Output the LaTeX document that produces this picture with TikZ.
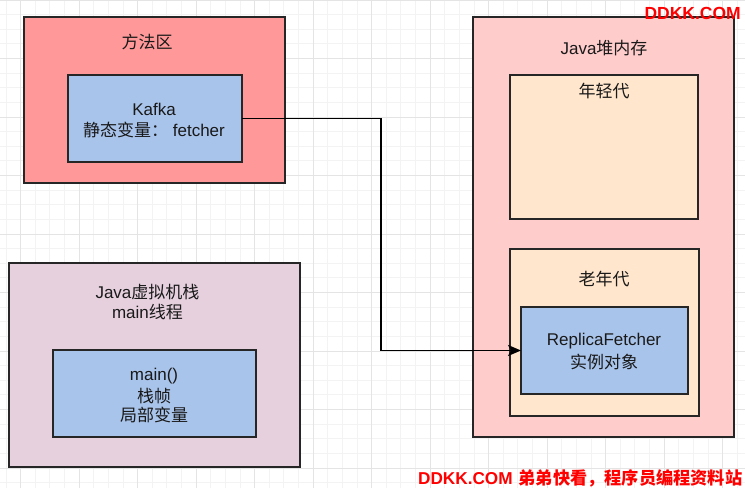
\documentclass[tikz,border=0pt]{standalone}
\usepackage{fontspec}
\setmainfont{Liberation Sans}
\newfontfamily\cjk{Noto Sans CJK SC}
\usetikzlibrary{arrows.meta}
\definecolor{methodc}{HTML}{FF9999}
\definecolor{heapc}{HTML}{FFCCCC}
\definecolor{genc}{HTML}{FFE6CC}
\definecolor{bluec}{HTML}{A9C4EB}
\definecolor{stackc}{HTML}{E6D0DE}
\definecolor{borderc}{HTML}{262626}
\definecolor{gridminor}{HTML}{F3F3F3}
\definecolor{gridmajor}{HTML}{E4E4E4}
\definecolor{wmred}{HTML}{FF0000}
\begin{document}
\begin{tikzpicture}[x=1pt,y=-1pt,
  region/.style={draw=borderc, line width=1.5pt, anchor=north west, inner sep=0pt, outer sep=0pt},
  lbl/.style={inner sep=0pt, font=\fontsize{17}{20}\selectfont, text=black!90},
  wm/.style={inner sep=0pt, font=\fontsize{17.5}{20}\selectfont\bfseries, text=wmred},
  wmb/.style={inner sep=0pt, font=\fontsize{17.2}{20}\selectfont\bfseries, text=wmred},
  conn/.style={draw=black, line width=1.5pt, -{Stealth[length=13pt,width=11pt,inset=3pt]}}
]
\useasboundingbox (0,0) rectangle (745,488);
\fill[white] (0,0) rectangle (745,488);
% grid
\foreach \i in {0,...,51} \draw[gridminor, line width=0.8pt] (5.9+\i*14.625,0) -- (5.9+\i*14.625,488);
\foreach \i in {0,...,34} \draw[gridminor, line width=0.8pt] (0,\i*14.625) -- (745,\i*14.625);
\foreach \i in {0,...,12} \draw[gridmajor, line width=0.9pt] (20.5+\i*58.5,0) -- (20.5+\i*58.5,488);
\foreach \i in {0,...,8} \draw[gridmajor, line width=0.9pt] (0,\i*58.5) -- (745,\i*58.5);

% method area
\node[region, fill=methodc, minimum width=261pt, minimum height=166pt] (method) at (24,17) {};
\node[lbl] (methodt) at (147,42) {\cjk 方法区};
\node[region, fill=bluec, minimum width=174pt, minimum height=87pt] (kafka) at (68,75) {};
\node[lbl] (kafkat1) at (154,109) {Kafka};
\node[lbl] (kafkat2) at (154,130) {{\cjk 静态变量：}\ fetcher};

% JVM stack
\node[region, fill=stackc, minimum width=291pt, minimum height=204pt] (stack) at (9,263) {};
\node[lbl] (stackt1) at (147.5,292) {Java{\cjk 虚拟机栈}};
\node[lbl] (stackt2) at (147.5,312) {main{\cjk 线程}};
\node[region, fill=bluec, minimum width=203pt, minimum height=87pt] (mainf) at (53,350) {};
\node[lbl] (maint1) at (154,376) {main()};
\node[lbl] (maint2) at (154,396) {\cjk 栈帧};
\node[lbl] (maint3) at (154,415) {\cjk 局部变量};

% heap
\node[region, fill=heapc, minimum width=261pt, minimum height=420pt] (heap) at (473,17) {};
\node[lbl] (heapt) at (604,48) {Java{\cjk 堆内存}};
\node[region, fill=genc, minimum width=188pt, minimum height=144pt] (young) at (510,75) {};
\node[lbl] (youngt) at (604,91) {\cjk 年轻代};
\node[region, fill=genc, minimum width=189pt, minimum height=167pt] (old) at (510,249) {};
\node[lbl] (oldt) at (604,279) {\cjk 老年代};
\node[region, fill=bluec, minimum width=167pt, minimum height=87pt] (replica) at (521,307) {};
\node[lbl] (replt1) at (604,341) {ReplicaFetcher};
\node[lbl] (replt2) at (604,362) {\cjk 实例对象};

% connector
\coordinate (bend) at (381,0);
\draw[conn] (kafka.east) -| (bend |- replica.west) -- (replica.west);

% watermarks
\node[wm, anchor=east] (wm1) at (741,13.5) {DDKK.COM};
\node[wmb, anchor=east] (wm2) at (742.5,478) {DDKK.COM{\cjk\hspace{6pt}弟弟快看，程序员编程资料站}};
\end{tikzpicture}
\end{document}
